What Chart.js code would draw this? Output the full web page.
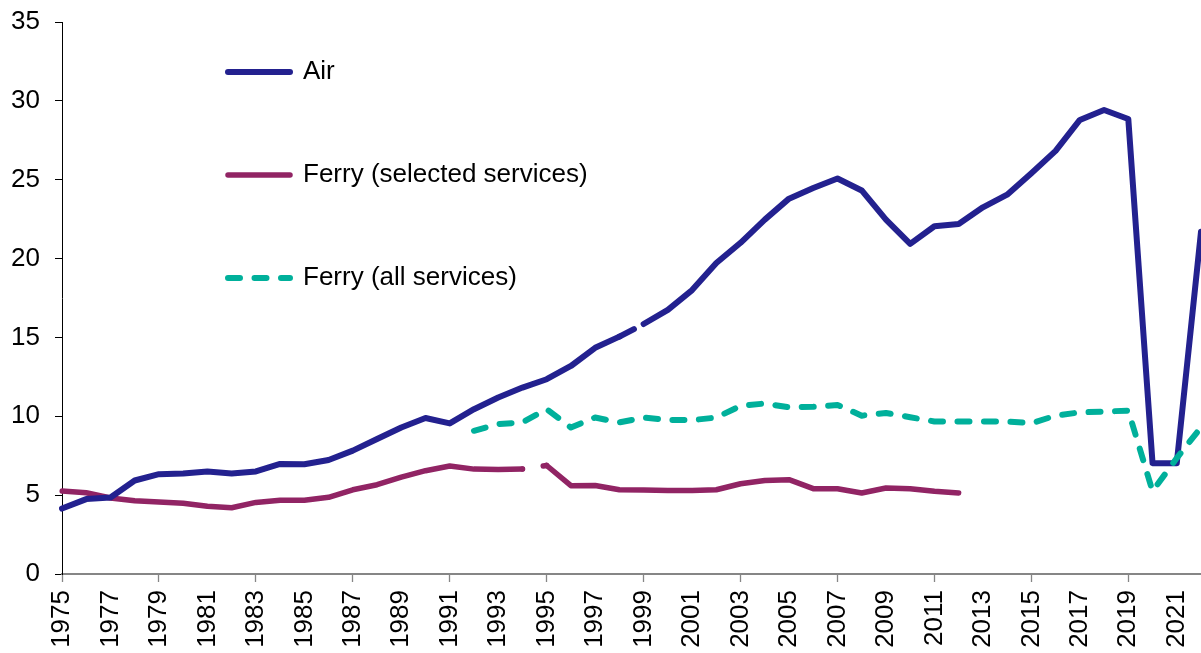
<!DOCTYPE html>
<html>
<head>
<meta charset="utf-8">
<script src="https://cdn.jsdelivr.net/npm/chart.js@4.4.1/dist/chart.umd.min.js"></script>
<style>
  html, body { margin: 0; padding: 0; background: #ffffff; }
  #wrap { position: relative; width: 1201px; height: 653px; }
</style>
</head>
<body>
<div id="wrap"><canvas id="chart"></canvas></div>
<script>
// ---- Data ----
const years = ['1975','1976','1977','1978','1979','1980','1981','1982','1983','1984',
               '1985','1986','1987','1988','1989','1990','1991','1992','1993','1994',
               '1995','1996','1997','1998','1999','2000','2001','2002','2003','2004',
               '2005','2006','2007','2008','2009','2010','2011','2012','2013','2014',
               '2015','2016','2017','2018','2019','2020','2021','2022'];

const xTickLabels = ['1975','1977','1979','1981','1983','1985','1987','1989','1991','1993',
                     '1995','1997','1999','2001','2003','2005','2007','2009','2011','2013',
                     '2015','2017','2019','2021'];

const yTickValues = [0, 5, 10, 15, 20, 25, 30, 35];

const seriesNames = ['Air', 'Ferry (selected services)', 'Ferry (all services)'];

const air = [4.15, 4.75, 4.85, 5.93, 6.33, 6.37, 6.50, 6.37, 6.50, 6.98,
             6.96, 7.23, 7.82, 8.56, 9.29, 9.89, 9.55, 10.45, 11.19, 11.82,
             12.35, 13.19, 14.34, 15.05, 15.85, 16.75, 18.00, 19.72, 21.00, 22.47,
             23.80, 24.47, 25.08, 24.32, 22.47, 20.93, 22.05, 22.19, 23.25, 24.05,
             25.41, 26.83, 28.79, 29.42, 28.85, 7.03, 7.03, 21.7];

const ferrySelected = [5.26, 5.15, 4.82, 4.65, 4.56, 4.48, 4.29, 4.20, 4.54, 4.67,
                       4.67, 4.86, 5.34, 5.66, 6.14, 6.55, 6.85, 6.65, 6.63, 6.65,
                       6.88, 5.60, 5.61, 5.34, 5.32, 5.30, 5.30, 5.34, 5.72, 5.93,
                       5.98, 5.41, 5.41, 5.14, 5.45, 5.41, 5.24, 5.14, null, null,
                       null, null, null, null, null, null, null, null];

const ferryAll = [null, null, null, null, null, null, null, null, null, null,
                  null, null, null, null, null, null, null, 9.08, 9.51, 9.61,
                  10.45, 9.29, 9.92, 9.61, 9.92, 9.76, 9.76, 9.92, 10.66, 10.81,
                  10.57, 10.60, 10.72, 10.04, 10.21, 9.94, 9.67, 9.67, 9.67, 9.67,
                  9.56, 10.04, 10.25, 10.30, 10.36, 5.25, 7.35, 9.30];

// breaks drawn in the original lines (segment starting at these years)
const airBreakAfter = '1998';
const ferryBreakAfter = '1994';

// ---- Styling ----
const COL_AIR = '#23218f';
const COL_FERRY_SEL = '#912464';
const COL_FERRY_ALL = '#00b09b';
const AXIS_GREY = '#868686';
const FONT = { family: "'Liberation Sans', Arial, sans-serif", size: 26 };

Chart.defaults.font.family = FONT.family;
Chart.defaults.font.size = FONT.size;
Chart.defaults.color = '#000000';

const legendPlace = {
  id: 'legendPlace',
  afterLayout(chart, args, opts) {
    const l = chart.legend;
    if (!l) return;
    const w = l.width, h = l.height;
    l.left = opts.x; l.top = opts.y;
    l.right = opts.x + w; l.bottom = opts.y + h;
  }
};

new Chart(document.getElementById('chart'), {
  type: 'line',
  data: {
    labels: years,
    datasets: [
      {
        label: seriesNames[0],
        data: air,
        borderColor: COL_AIR,
        backgroundColor: COL_AIR,
        borderWidth: 6,
        borderCapStyle: 'round',
        borderJoinStyle: 'round',
        pointRadius: 0,
        pointHoverRadius: 0,
        tension: 0,
        order: 1,
        segment: {
          borderDash: ctx => (years[ctx.p0DataIndex] === airBreakAfter ? [16.4, 17.3, 60] : undefined)
        }
      },
      {
        label: seriesNames[1],
        data: ferrySelected,
        borderColor: COL_FERRY_SEL,
        backgroundColor: COL_FERRY_SEL,
        borderWidth: 5.5,
        borderCapStyle: 'round',
        borderJoinStyle: 'round',
        pointRadius: 0,
        pointHoverRadius: 0,
        tension: 0,
        order: 2,
        segment: {
          borderDash: ctx => (years[ctx.p0DataIndex] === ferryBreakAfter ? [0, 21, 60] : undefined)
        }
      },
      {
        label: seriesNames[2],
        data: ferryAll,
        borderColor: COL_FERRY_ALL,
        backgroundColor: COL_FERRY_ALL,
        borderWidth: 6,
        borderDash: [12, 14.5],
        borderCapStyle: 'round',
        borderJoinStyle: 'round',
        pointRadius: 0,
        pointHoverRadius: 0,
        tension: 0,
        order: 0
      }
    ]
  },
  options: {
    responsive: true,
    maintainAspectRatio: false,
    animation: false,
    events: [],
    layout: { padding: { top: 22, right: 0, bottom: 0, left: 0 } },
    scales: {
      x: {
        type: 'category',
        offset: false,
        border: { display: true, color: AXIS_GREY, width: 2 },
        grid: {
          display: true,
          drawOnChartArea: false,
          drawTicks: true,
          tickLength: 8,
          tickWidth: 1.3,
          tickColor: ctx => (ctx.tick && xTickLabels.includes(years[ctx.index]) ? AXIS_GREY : 'rgba(0,0,0,0)')
        },
        ticks: {
          autoSkip: false,
          minRotation: 90,
          maxRotation: 90,
          padding: 8,
          color: '#000000',
          font: FONT,
          callback: (value, index) => (xTickLabels.includes(years[index]) ? years[index] : null)
        },
        afterFit: scale => {
          scale.height = 79;
          scale.paddingLeft = 0; scale.paddingRight = 0;
          scale.paddingTop = 0; scale.paddingBottom = 0;
        }
      },
      y: {
        type: 'linear',
        min: yTickValues[0],
        max: yTickValues[yTickValues.length - 1],
        border: { display: true, color: '#000000', width: 1 },
        grid: {
          display: true,
          drawOnChartArea: false,
          drawTicks: true,
          tickLength: 7,
          tickWidth: 1,
          tickColor: '#000000'
        },
        afterBuildTicks: scale => { scale.ticks = yTickValues.map(v => ({ value: v })); },
        ticks: {
          padding: 15,
          color: '#000000',
          font: FONT
        },
        afterFit: scale => {
          scale.width = 62;
          scale.paddingTop = 0; scale.paddingBottom = 0;
          scale.paddingLeft = 0; scale.paddingRight = 0;
        }
      }
    },
    plugins: {
      tooltip: { enabled: false },
      legend: {
        display: true,
        position: 'chartArea',
        align: 'start',
        labels: {
          usePointStyle: true,
          pointStyle: 'line',
          pointStyleWidth: 62,
          padding: 77,
          color: '#000000',
          font: FONT,
          sort: (a, b) => a.datasetIndex - b.datasetIndex,
          generateLabels: chart => {
            const items = Chart.defaults.plugins.legend.labels.generateLabels(chart);
            items.forEach(it => {
              const ds = chart.data.datasets[it.datasetIndex];
              it.lineDash = ds.borderDash || [];
              it.lineCap = ds.borderCapStyle;
              it.lineWidth = ds.borderWidth;
              it.strokeStyle = ds.borderColor;
            });
            return items;
          }
        }
      },
      legendPlace: { x: 151, y: -18 }
    }
  },
  plugins: [legendPlace]
});
</script>
</body>
</html>
